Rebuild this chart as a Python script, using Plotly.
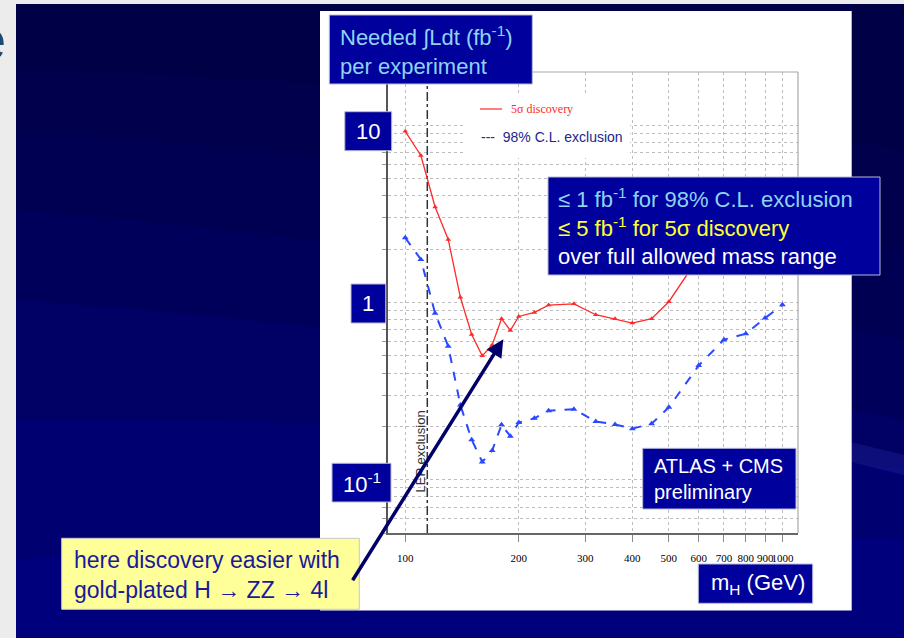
import math
import plotly.graph_objects as go

# Higgs boson mass points (GeV) and integrated luminosity needed per experiment (fb^-1)
MASS = [100, 110, 120, 130, 140, 150, 160, 170, 180, 190, 200, 220,
        240, 280, 320, 360, 400, 450, 500, 600, 700, 800, 900, 1000]
LUMI_DISCOVERY = [9.25, 6.76, 3.46, 2.27, 1.07, 0.66, 0.50, 0.576, 0.81, 0.696, 0.834, 0.879,
                  0.967, 0.983, 0.853, 0.81, 0.766, 0.81, 1.01, 1.8, 2.4, 3.0, 3.6, 4.4]
LUMI_EXCLUSION = [2.32, 1.75, 0.87, 0.566, 0.264, 0.168, 0.126, 0.146, 0.204, 0.176, 0.21, 0.222,
                  0.245, 0.25, 0.213, 0.205, 0.194, 0.207, 0.256, 0.441, 0.617, 0.667, 0.817, 0.97]
LEP_LIMIT = 114.4

X_TICKS = [100, 200, 300, 400, 500, 600, 700, 800, 900, 1000]
X_TICK_TEXT = ["100", "200", "300", "400", "500", "600", "700", "800", "900", "1000"]
Y_GRID = [0.05, 0.06, 0.07, 0.08, 0.09,
          0.1, 0.2, 0.3, 0.4, 0.5, 0.6, 0.7, 0.8, 0.9,
          1, 2, 3, 4, 5, 6, 7, 8, 9, 10, 20]

W, H = 904, 638
SANS = "Arial, 'Liberation Sans', sans-serif"
SERIF = "'Times New Roman', 'Liberation Serif', serif"
BOX_FILL = "#00009c"
PLOT_L, PLOT_R, PLOT_T, PLOT_B = 388, 798, 72, 533


def px(x):
    return x / W


def py(y):
    return 1 - y / H


fig = go.Figure()

fig.add_trace(go.Scatter(
    x=[LEP_LIMIT, LEP_LIMIT], y=[0.05, 20], mode="lines",
    line=dict(color="#333333", width=1.5, dash="dashdot"), hoverinfo="skip"))
fig.add_trace(go.Scatter(
    x=MASS, y=LUMI_EXCLUSION, mode="lines+markers", name="98% C.L. exclusion",
    line=dict(color="#2a48ff", width=2, dash="dash"),
    marker=dict(symbol="triangle-up", size=6, color="#2a48ff")))
fig.add_trace(go.Scatter(
    x=MASS, y=LUMI_DISCOVERY, mode="lines+markers", name="5σ discovery",
    line=dict(color="#ff2a2a", width=1.3),
    marker=dict(symbol="triangle-up", size=5, color="#ff2a2a")))

shapes = []

# slide background: grey page edge, navy gradient streaks, white chart panel
shapes.append(dict(type="rect", xref="paper", yref="paper", x0=px(16), x1=1, y0=0, y1=py(4),
                   fillcolor="#00007c", line_width=0, layer="below"))
for yl, yr in [(70, 150), (130, 250), (210, 340), (300, 420), (420, 470), (560, 540)]:
    path = (f"M {px(16)},{py(4)} L 1,{py(4)} L 1,{py(yr)} "
            f"Q {px(460)},{py((yl + yr) / 2 - 30)} {px(16)},{py(yl)} Z")
    shapes.append(dict(type="path", xref="paper", yref="paper", path=path,
                       fillcolor="rgba(0,0,30,0.13)", line_width=0, layer="below"))
shapes.append(dict(type="path", xref="paper", yref="paper",
                   path=f"M {px(600)},{py(380)} Q {px(760)},{py(420)} 1,{py(455)} L 1,{py(475)} "
                        f"Q {px(760)},{py(440)} {px(600)},{py(392)} Z",
                   fillcolor="rgba(80,80,230,0.18)", line_width=0, layer="below"))
shapes.append(dict(type="rect", xref="paper", yref="paper", x0=px(320), x1=px(851.7),
                   y0=py(610.5), y1=py(11), fillcolor="white", line_width=0, layer="below"))

# lighter top and right frame edges
shapes.append(dict(type="line", xref="paper", yref="paper", x0=px(PLOT_L), x1=px(PLOT_R),
                   y0=py(PLOT_T), y1=py(PLOT_T), line=dict(color="#a8a8a8", width=1.2), layer="above"))
shapes.append(dict(type="line", xref="paper", yref="paper", x0=px(PLOT_R), x1=px(PLOT_R),
                   y0=py(PLOT_B), y1=py(PLOT_T), line=dict(color="#a8a8a8", width=1.2), layer="above"))

# legend area
shapes.append(dict(type="rect", xref="paper", yref="paper", x0=px(466), x1=px(630),
                   y0=py(158), y1=py(95), fillcolor="white", line_width=0, layer="above"))
shapes.append(dict(type="line", xref="paper", yref="paper", x0=px(480), x1=px(502),
                   y0=py(109), y1=py(109), line=dict(color="#ff2a2a", width=1.2), layer="above"))

# navy text boxes
boxes = [
    (329.3, 15, 532.3, 84),
    (344.8, 111.7, 391.7, 150.7),
    (351, 284, 385.7, 323),
    (332, 463.3, 391, 502),
    (548, 177, 880, 275),
    (642.7, 448.3, 796, 509),
    (698.3, 564, 812.7, 603.3),
]
for x0, y0, x1, y1 in boxes:
    shapes.append(dict(type="rect", xref="paper", yref="paper", x0=px(x0), x1=px(x1),
                       y0=py(y1), y1=py(y0), fillcolor=BOX_FILL,
                       line=dict(color="#b8b8d8", width=1), layer="above"))
shapes.append(dict(type="rect", xref="paper", yref="paper", x0=px(61.7), x1=px(359.3),
                   y0=py(609.3), y1=py(538.3), fillcolor="#ffff99",
                   line=dict(color="#c8c8c8", width=1), layer="above"))

annotations = []


def note(text, x, y, size, color, family=SANS, xanchor="left", **kw):
    annotations.append(dict(text=text, x=px(x), y=py(y), xref="paper", yref="paper",
                            xanchor=xanchor, yanchor="middle", showarrow=False,
                            align="left", font=dict(family=family, size=size, color=color), **kw))


note("Needed ∫Ldt (fb<sup>-1</sup>)<br>per experiment", 338, 50.5, 22, "#8ed3f2")
note("10", 368.2, 131.2, 22, "white", xanchor="center")
note("1", 368.3, 303.5, 22, "white", xanchor="center")
note("10<sup>-1</sup>", 361.5, 482.7, 22, "white", xanchor="center")
note("≤ 1 fb<sup>-1</sup> for 98% C.L. exclusion", 556, 198, 22, "#8ed3f2")
note("≤ 5 fb<sup>-1</sup> for 5σ discovery", 556, 227, 22, "#ffff33")
note("over full allowed mass range", 556, 256, 22, "white")
note("ATLAS + CMS<br>preliminary", 651.5, 479.5, 20, "white")
note("m<sub>H</sub> (GeV)", 709, 583.7, 22, "white")
note("here discovery easier with<br>gold-plated H → ZZ → 4l", 72, 575, 23, "#1a1a9a")
note("5σ discovery", 509, 109, 12, "#ff2a2a", family=SERIF)
note("---  98% C.L. exclusion", 479, 137, 14, "#25258c")
note("LEP exclusion", 419.5, 452, 13, "#333333", xanchor="center", textangle=-90)
note("e", 8, 40, 56, "#1c4a70", xanchor="right")

# arrow pointing at the low-mass dip
annotations.append(dict(text="", x=px(503.3), y=py(339.3), xref="paper", yref="paper",
                        showarrow=True, ax=-151.6, ay=242.4, axref="pixel", ayref="pixel",
                        arrowhead=2, arrowsize=1.0, arrowwidth=3.5, arrowcolor="#00006a",
                        standoff=0, startstandoff=0))

fig.update_layout(
    width=W, height=H,
    margin=dict(l=0, r=0, t=0, b=0),
    paper_bgcolor="#ececec",
    plot_bgcolor="white",
    showlegend=False,
    shapes=shapes,
    annotations=annotations,
    xaxis=dict(
        type="log", domain=[PLOT_L / W, PLOT_R / W],
        range=[math.log10(90), math.log10(1100)],
        tickmode="array", tickvals=X_TICKS, ticktext=X_TICK_TEXT, tickangle=0,
        tickfont=dict(family=SERIF, size=11, color="black"),
        ticks="outside", ticklen=7, tickcolor="#888888", ticklabelstandoff=7,
        showgrid=True, gridcolor="#bdbdbd", griddash="dot", gridwidth=1,
        showline=True, linecolor="#666666", linewidth=1.5,
        zeroline=False,
    ),
    yaxis=dict(
        type="log", domain=[1 - PLOT_B / H, 1 - PLOT_T / H],
        range=[math.log10(0.05), math.log10(20)],
        tickmode="array", tickvals=Y_GRID, showticklabels=False,
        ticks="outside", ticklen=4, tickcolor="#999999",
        showgrid=True, gridcolor="#bdbdbd", griddash="dot", gridwidth=1,
        showline=True, linecolor="#555555", linewidth=1.5,
        zeroline=False,
    ),
)

fig.write_html("out.html")
